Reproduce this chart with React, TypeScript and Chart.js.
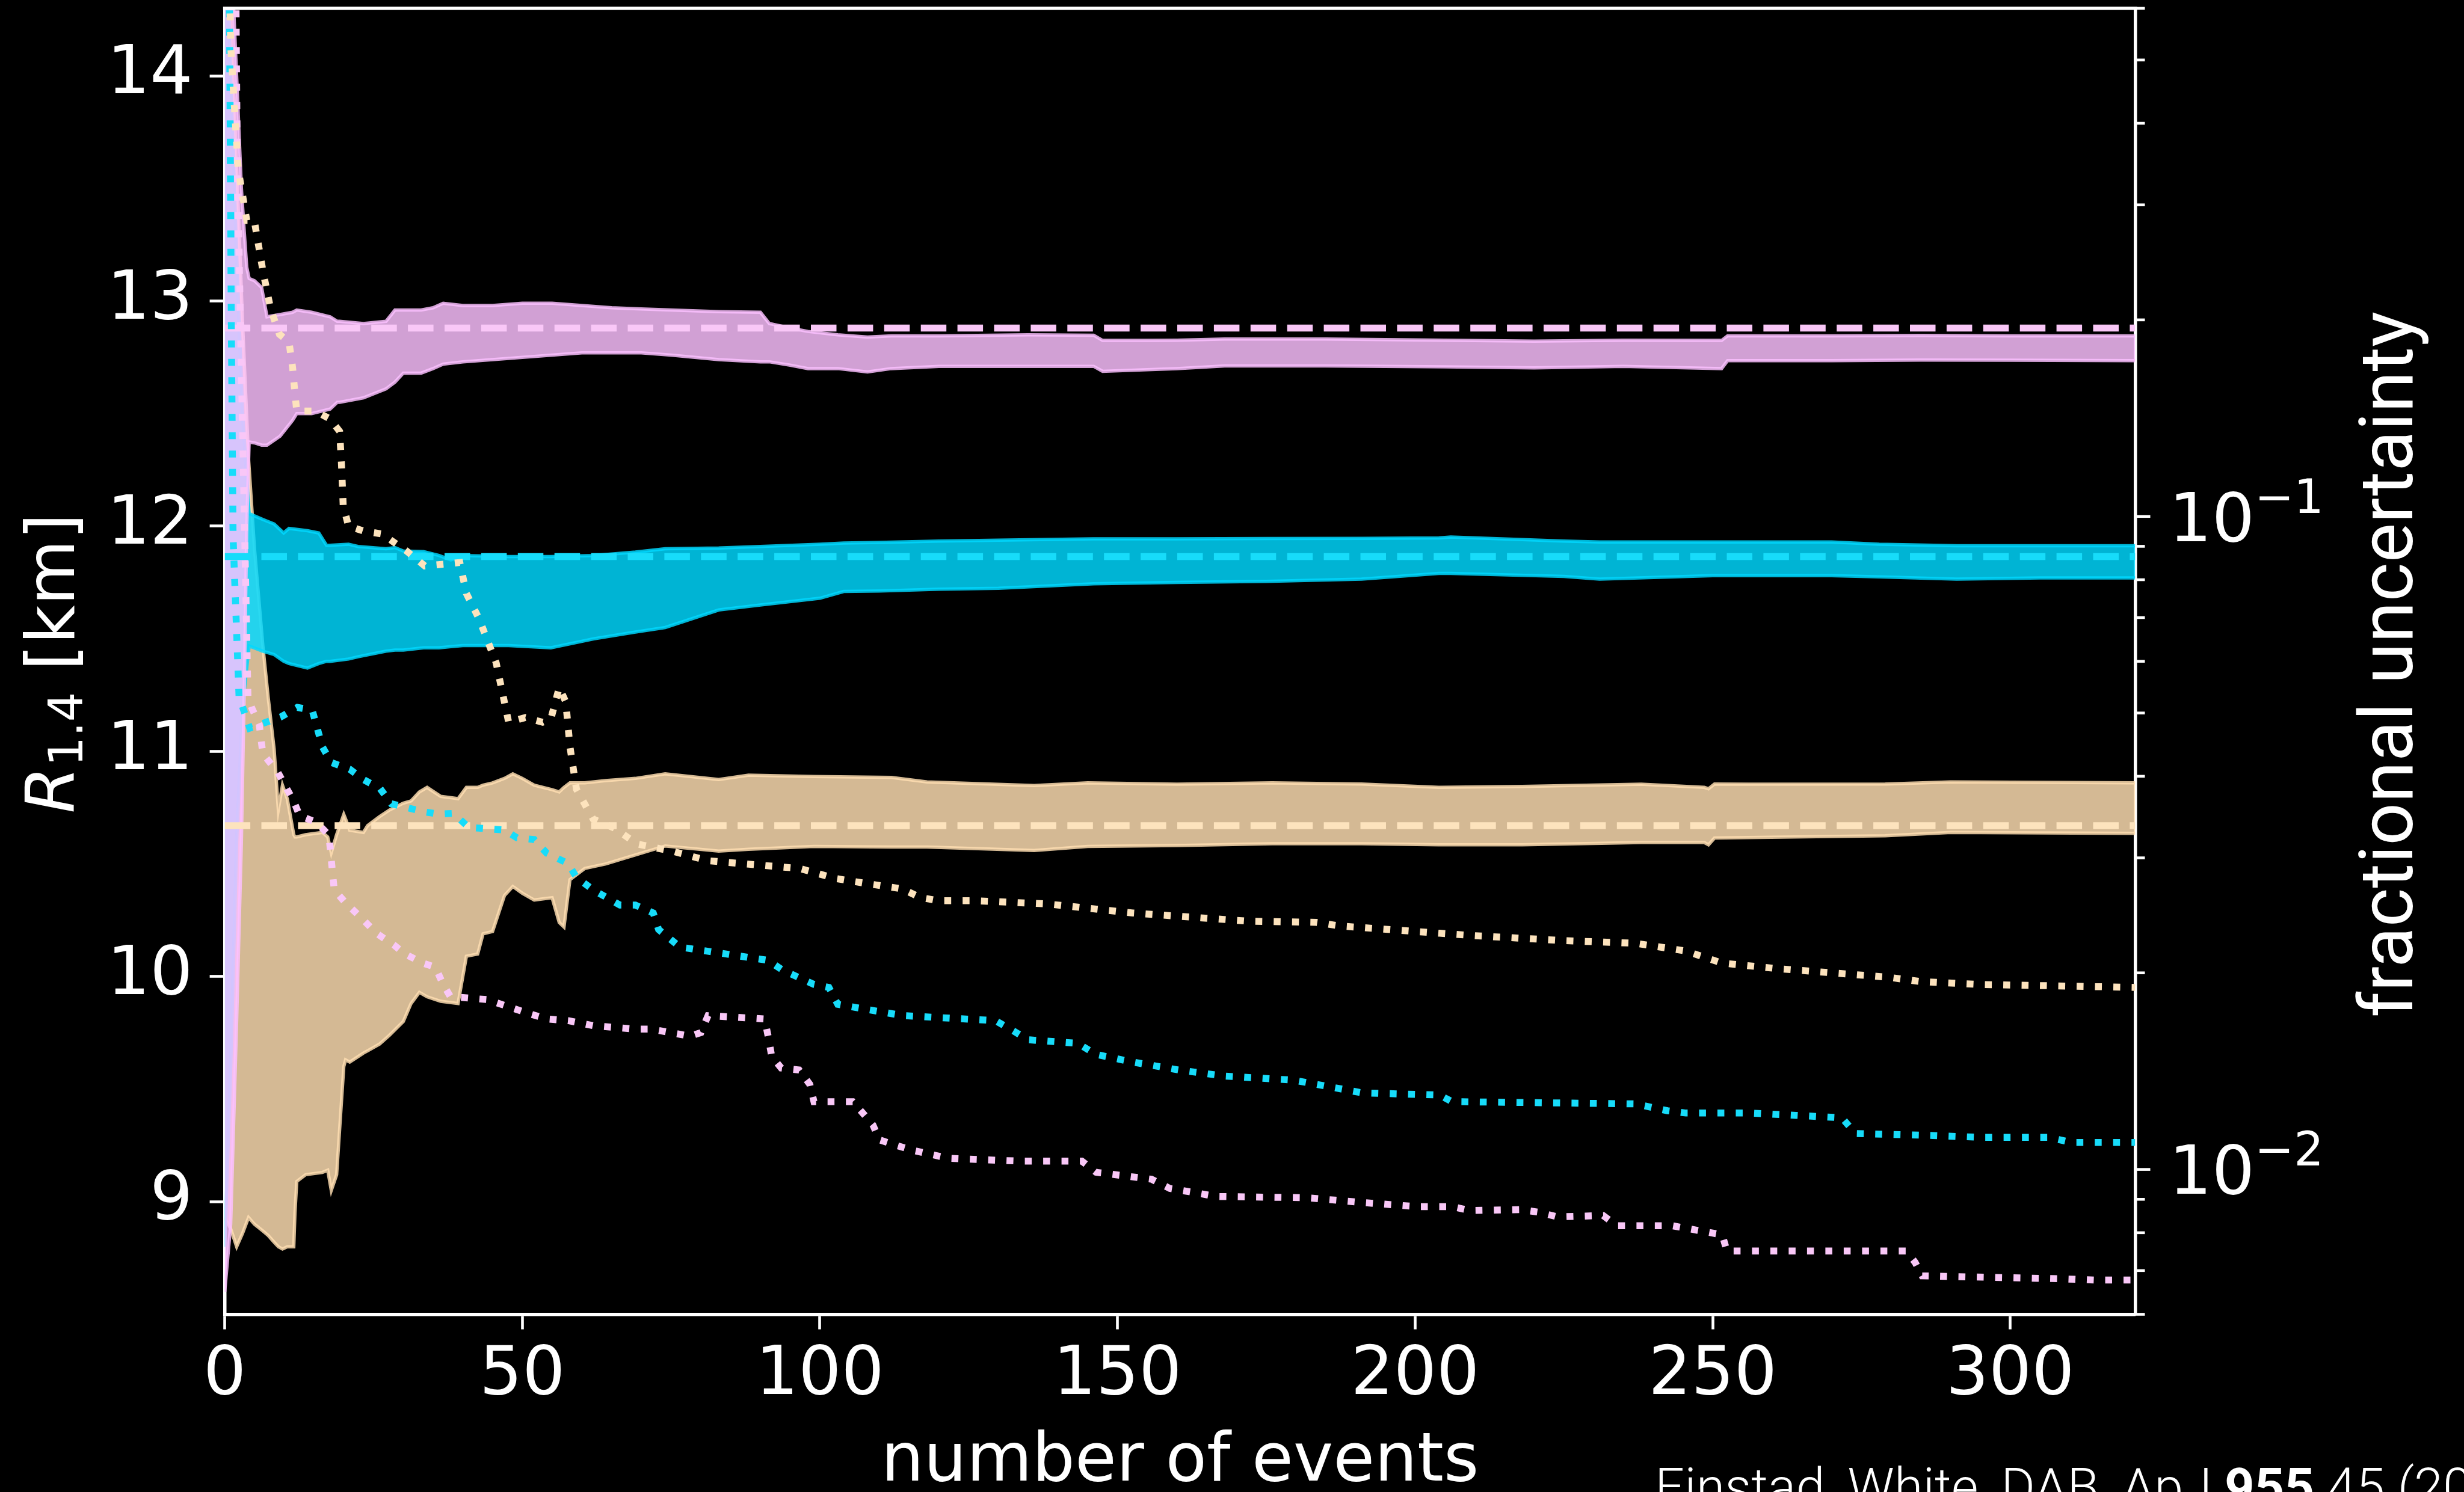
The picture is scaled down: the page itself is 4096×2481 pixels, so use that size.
import React, { useEffect, useRef } from 'react';
import { Chart, registerables } from 'chart.js';

Chart.register(...registerables);

// ---------------- data ----------------
const xTickValues = [0, 50, 100, 150, 200, 250, 300];
const rTickValues = [9, 10, 11, 12, 13, 14];
const uMajorTicks = [0.01, 0.1];
const uMajorExponents = ['\u22122', '\u22121'];
const uMinorTicks = [0.006, 0.007, 0.008, 0.009, 0.02, 0.03, 0.04, 0.05, 0.06, 0.07, 0.08, 0.09, 0.2, 0.3, 0.4, 0.5, 0.6];

const pinkTrueR = 12.88;
const cyanTrueR = 11.865;
const tanTrueR = 10.67;

const pinkBandN = [0, 1, 2, 2.8, 3.3, 3.7, 4.1, 5, 6.2, 7.1, 9.3, 11.4, 12.1, 14.6, 17.7, 18.9, 19.3, 23.3, 27.1, 28.6, 30, 33, 35, 36.7, 40, 45, 50, 55, 60, 65, 70, 75, 83, 90, 91.5, 95, 98, 103, 108, 112, 120, 135, 146, 147.5, 155, 160, 168, 185, 205, 220, 235, 251.5, 252.5, 270, 285, 300, 321];
const pinkBandUpper = [14.9, 14.6, 14.0, 13.5, 13.3, 13.15, 13.1, 13.09, 13.06, 12.93, 12.94, 12.95, 12.96, 12.95, 12.93, 12.91, 12.91, 12.9, 12.91, 12.96, 12.96, 12.96, 12.97, 12.99, 12.98, 12.98, 12.99, 12.99, 12.98, 12.97, 12.965, 12.96, 12.953, 12.95, 12.9, 12.88, 12.865, 12.85, 12.84, 12.845, 12.845, 12.85, 12.848, 12.825, 12.825, 12.826, 12.831, 12.831, 12.826, 12.822, 12.826, 12.825, 12.845, 12.845, 12.847, 12.845, 12.845];
const pinkBandLower = [8.6, 8.9, 9.8, 10.6, 11.3, 12.0, 12.374, 12.37, 12.36, 12.36, 12.4, 12.47, 12.5, 12.5, 12.52, 12.55, 12.55, 12.57, 12.61, 12.64, 12.68, 12.68, 12.7, 12.72, 12.73, 12.74, 12.75, 12.76, 12.77, 12.77, 12.77, 12.76, 12.74, 12.73, 12.73, 12.715, 12.7, 12.7, 12.685, 12.7, 12.71, 12.71, 12.71, 12.688, 12.695, 12.7, 12.712, 12.712, 12.708, 12.703, 12.71, 12.7, 12.735, 12.735, 12.738, 12.737, 12.735];

const cyanBandN = [0, 1, 2, 3, 4.1, 6.4, 8.3, 9.9, 10.8, 13.9, 15.8, 17.1, 17.7, 20.8, 22.4, 27.1, 28.6, 30, 33.4, 36, 38, 40, 47.7, 54.8, 62, 69, 74, 83, 90, 100, 104, 110, 120, 130, 146, 160, 175, 191, 204, 206, 225, 231, 250, 270, 278, 291, 305, 321];
const cyanBandUpper = [14.9, 14.0, 13.2, 12.5, 12.056, 12.03, 12.01, 11.97, 11.99, 11.98, 11.97, 11.915, 11.915, 11.92, 11.91, 11.9, 11.905, 11.89, 11.887, 11.87, 11.85, 11.87, 11.865, 11.865, 11.87, 11.885, 11.9, 11.903, 11.91, 11.92, 11.925, 11.928, 11.934, 11.938, 11.944, 11.944, 11.945, 11.946, 11.948, 11.952, 11.934, 11.93, 11.93, 11.93, 11.92, 11.913, 11.913, 11.913];
const cyanBandLower = [8.8, 9.6, 10.6, 11.2, 11.468, 11.445, 11.43, 11.4, 11.39, 11.37, 11.39, 11.4, 11.4, 11.41, 11.42, 11.445, 11.45, 11.45, 11.46, 11.46, 11.465, 11.47, 11.47, 11.46, 11.5, 11.53, 11.55, 11.628, 11.65, 11.68, 11.71, 11.712, 11.72, 11.724, 11.744, 11.75, 11.755, 11.765, 11.79, 11.79, 11.777, 11.765, 11.78, 11.78, 11.775, 11.765, 11.77, 11.77];

const tanBandN = [0, 1, 2, 3, 4, 5, 6.4, 7.3, 8.3, 9, 9.7, 10.5, 11.6, 11.8, 12.1, 13.6, 16.4, 17.3, 17.9, 18.8, 20, 20.3, 21, 23.3, 24, 26, 27.7, 30, 31.3, 32.7, 34, 36.3, 39.2, 40.6, 42.5, 43.4, 45, 47, 48.4, 50, 52, 55, 56.2, 57, 58, 60.5, 64, 69, 74, 83, 88, 99, 112, 118, 136, 145, 160, 176, 191, 204, 218, 238, 248.6, 249.3, 250.3, 256, 279, 290, 321];
const tanBandUpper = [14.9, 14.3, 13.6, 12.9, 12.3, 11.9, 11.47, 11.24, 11.01, 10.74, 10.85, 10.79, 10.63, 10.62, 10.62, 10.63, 10.64, 10.62, 10.55, 10.63, 10.72, 10.7, 10.65, 10.64, 10.67, 10.71, 10.74, 10.77, 10.78, 10.82, 10.84, 10.8, 10.79, 10.84, 10.84, 10.85, 10.86, 10.88, 10.9, 10.88, 10.85, 10.83, 10.82, 10.84, 10.86, 10.86, 10.87, 10.88, 10.9, 10.875, 10.894, 10.888, 10.884, 10.864, 10.848, 10.86, 10.854, 10.86, 10.855, 10.84, 10.844, 10.854, 10.84, 10.834, 10.855, 10.854, 10.855, 10.864, 10.86];
const tanBandLower = [8.93, 8.88, 8.8, 8.86, 8.93, 8.9, 8.87, 8.85, 8.82, 8.8, 8.79, 8.8, 8.8, 8.95, 9.09, 9.12, 9.13, 9.14, 9.05, 9.12, 9.6, 9.63, 9.62, 9.66, 9.67, 9.7, 9.74, 9.8, 9.88, 9.93, 9.91, 9.89, 9.88, 10.09, 10.1, 10.19, 10.2, 10.36, 10.4, 10.37, 10.34, 10.35, 10.24, 10.22, 10.43, 10.48, 10.5, 10.54, 10.58, 10.557, 10.565, 10.578, 10.575, 10.575, 10.56, 10.578, 10.582, 10.59, 10.59, 10.585, 10.585, 10.595, 10.595, 10.585, 10.615, 10.617, 10.625, 10.64, 10.636];

const tanFracN = [0, 1.03, 1.65, 2.27, 3.7, 4.96, 6.4, 7.7, 9.2, 10.8, 11.4, 11.8, 12.1, 15.2, 17.7, 19.3, 19.6, 19.9, 20.8, 23.3, 26.4, 30.5, 33.6, 37.9, 39.5, 40.6, 42.7, 45.6, 47.7, 50.5, 53.4, 54.8, 56.2, 57.3, 58, 59.1, 61.9, 65.5, 69.3, 75.3, 81.2, 90.7, 96.6, 102.6, 107.9, 113.8, 116.8, 119.8, 125.7, 138.2, 152.6, 171.9, 183.4, 187.3, 204.1, 210, 225.4, 237, 245.5, 251.6, 260.9, 270.1, 279.4, 284.8, 294.8, 321];
const tanFracU = [1.2, 0.52, 0.42, 0.34, 0.284, 0.284, 0.238, 0.208, 0.19, 0.185, 0.169, 0.154, 0.145, 0.145, 0.141, 0.135, 0.121, 0.104, 0.0966, 0.095, 0.094, 0.0886, 0.084, 0.0847, 0.085, 0.0762, 0.0698, 0.0597, 0.0484, 0.0492, 0.0484, 0.049, 0.0547, 0.052, 0.0444, 0.0382, 0.0344, 0.0333, 0.0315, 0.0307, 0.0297, 0.0292, 0.0289, 0.0279, 0.0274, 0.0269, 0.0261, 0.0258, 0.0258, 0.0255, 0.0247, 0.024, 0.0239, 0.0236, 0.023, 0.0228, 0.0224, 0.0222, 0.0216, 0.0207, 0.0203, 0.02, 0.0197, 0.0194, 0.0192, 0.019];

const cyanFracN = [0.5, 0.8, 1.1, 1.4, 2.4, 4.2, 9.4, 12.2, 14.7, 16.4, 17.9, 21, 23.4, 26.1, 28, 33.4, 36, 38.4, 41, 47, 49.1, 52, 54.1, 57.7, 59.1, 61.9, 66.4, 69, 72, 72.9, 76.5, 82.4, 88.3, 91.3, 93.7, 99, 101.5, 103, 106, 114, 129.5, 132.5, 134.9, 143.3, 146.4, 152.6, 160.3, 168, 179.6, 183.4, 191.1, 204.1, 206.2, 237, 242.4, 245.5, 256.3, 264, 271.7, 274, 287, 294.8, 306.4, 310.2, 321];
const cyanFracU = [3.0, 0.6, 0.2, 0.093, 0.053, 0.0474, 0.0493, 0.051, 0.0505, 0.0444, 0.042, 0.041, 0.0395, 0.0383, 0.0363, 0.0353, 0.035, 0.0351, 0.0334, 0.0331, 0.0322, 0.032, 0.0305, 0.0294, 0.028, 0.0268, 0.0254, 0.0254, 0.0247, 0.0233, 0.0219, 0.0215, 0.0211, 0.0209, 0.0202, 0.0192, 0.019, 0.0179, 0.0177, 0.0172, 0.0169, 0.0163, 0.0158, 0.0156, 0.015, 0.0146, 0.0142, 0.0139, 0.0137, 0.0135, 0.0131, 0.013, 0.0127, 0.0126, 0.0123, 0.0122, 0.0122, 0.0121, 0.012, 0.01135, 0.01127, 0.0112, 0.0112, 0.011, 0.011];

const pinkFracN = [0.5, 1.9, 2.1, 3.0, 3.9, 4.5, 5.8, 6.4, 8.9, 11.6, 12.6, 15.4, 17.5, 17.8, 18.1, 18.4, 20.3, 22.7, 25.5, 28.6, 30.2, 33.3, 35.4, 36.7, 37.9, 44.1, 51.3, 54.1, 57.7, 61.9, 69, 71.7, 78.2, 80, 81.2, 90.7, 91.3, 91.9, 93.5, 96.5, 98.3, 99, 105.5, 107.2, 108.9, 110, 112.6, 115.6, 121.6, 133.3, 144, 146.4, 155.7, 158.8, 163.4, 166.5, 181.9, 191.1, 200.4, 206.2, 209.2, 217.7, 220.8, 223.9, 231.6, 233.9, 243.2, 251.6, 252.4, 282.5, 284, 285.2, 308.7, 314.1, 321];
const pinkFracU = [3.0, 0.6, 0.35, 0.135, 0.053, 0.051, 0.048, 0.0433, 0.0406, 0.0366, 0.0348, 0.034, 0.0325, 0.0305, 0.0285, 0.0268, 0.0256, 0.0244, 0.023, 0.022, 0.0214, 0.0207, 0.0204, 0.0192, 0.0184, 0.0182, 0.0173, 0.017, 0.0169, 0.0166, 0.0164, 0.0164, 0.016, 0.0162, 0.0172, 0.017, 0.016, 0.0149, 0.0143, 0.0142, 0.0135, 0.0127, 0.0127, 0.0122, 0.0117, 0.0111, 0.0109, 0.0107, 0.0104, 0.0103, 0.0103, 0.0099, 0.00966, 0.00935, 0.0092, 0.00909, 0.00905, 0.0089, 0.00877, 0.00877, 0.00865, 0.00868, 0.0086, 0.00846, 0.0085, 0.0082, 0.0082, 0.00794, 0.0075, 0.0075, 0.00721, 0.00687, 0.0068, 0.00677, 0.00677];

// ---------------- styles ----------------
const W = 4096;
const H = 2481;
const PINK = '#f9c7f7';
const CYAN = '#17dcfa';
const TAN = '#fde3bd';
const PINK_FILL = 'rgba(251,193,255,0.83)';
const CYAN_FILL = 'rgba(0,217,255,0.83)';
const TAN_FILL = 'rgba(255,223,178,0.83)';
const FONT = '"DejaVu Sans"';
const FS = 112;
const SANS = 'Roboto, "Liberation Sans"';

const pts = (xs: number[], ys: number[]) => xs.map((x, i) => ({ x, y: ys[i] }));

const overlay = {
  id: 'overlay',
  beforeDraw(chart: any) {
    const ctx = chart.ctx;
    ctx.save();
    ctx.fillStyle = '#000';
    ctx.fillRect(0, 0, chart.width, chart.height);
    ctx.restore();
  },
  afterDraw(chart: any) {
    const ctx: CanvasRenderingContext2D = chart.ctx;
    const ca = chart.chartArea;
    const y2 = chart.scales.y2;
    ctx.save();
    // top spine
    ctx.strokeStyle = '#fff';
    ctx.lineWidth = 5.5;
    ctx.beginPath();
    ctx.moveTo(ca.left - 2.75, ca.top);
    ctx.lineTo(ca.right + 2.75, ca.top);
    ctx.stroke();
    // right axis ticks
    ctx.lineWidth = 4.6;
    for (const v of uMinorTicks) {
      const y = y2.getPixelForValue(v);
      ctx.beginPath();
      ctx.moveTo(ca.right, y);
      ctx.lineTo(ca.right + 16, y);
      ctx.stroke();
    }
    for (const v of uMajorTicks) {
      const y = y2.getPixelForValue(v);
      ctx.beginPath();
      ctx.moveTo(ca.right, y);
      ctx.lineTo(ca.right + 25, y);
      ctx.stroke();
    }
    // right axis labels 10^-n
    ctx.fillStyle = '#fff';
    ctx.textAlign = 'left';
    ctx.textBaseline = 'alphabetic';
    uMajorTicks.forEach((v, i) => {
      const y = y2.getPixelForValue(v);
      const x0 = ca.right + 25 + 31;
      const base = y + 0.729 * FS / 2;
      ctx.font = `${FS}px ${FONT}`;
      ctx.fillText('10', x0, base);
      const w = ctx.measureText('10').width;
      ctx.font = `${Math.round(FS * 0.7)}px ${FONT}`;
      ctx.fillText(uMajorExponents[i], x0 + w, base - 47);
    });

    // left title R_{1.4} [km]
    ctx.save();
    ctx.translate(123, 1103);
    ctx.rotate(-Math.PI / 2);
    const fR = `italic ${FS}px ${FONT}`;
    const fSub = `${Math.round(FS * 0.7)}px ${FONT}`;
    const fN = `${FS}px ${FONT}`;
    ctx.font = fR; const wR = ctx.measureText('R').width;
    ctx.font = fSub; const wS = ctx.measureText('1.4').width;
    ctx.font = fN; const wK = ctx.measureText(' [km]').width;
    let x = -(wR + wS + wK) / 2;
    ctx.font = fR; ctx.fillText('R', x, 0); x += wR;
    ctx.font = fSub; ctx.fillText('1.4', x, 14); x += wS;
    ctx.font = fN; ctx.fillText(' [km]', x, 0);
    ctx.restore();

    // bottom title
    ctx.font = `${FS}px ${FONT}`;
    ctx.textAlign = 'center';
    ctx.fillText('number of events', (ca.left + ca.right) / 2, 2462);

    // right title
    const rt = 'fractional uncertainty';
    ctx.font = `400 100px ${SANS}`;
    const rw = ctx.measureText(rt).width;
    const rs = 100 * 1174 / rw;
    ctx.save();
    ctx.translate(4010, 1105);
    ctx.rotate(-Math.PI / 2);
    ctx.font = `400 ${rs}px ${SANS}`;
    ctx.textAlign = 'center';
    ctx.fillText(rt, 0, 0);
    ctx.restore();

    // citation (cut by the figure edge)
    const c1 = 'Einstad, White, DAB, ApJ ';
    const c2 = '955';
    const c3 = ' 45 (2023)';
    ctx.textAlign = 'left';
    ctx.font = `300 100px ${SANS}`;
    const m1 = ctx.measureText(c1).width;
    const m3 = ctx.measureText(' 45 (2').width + 0.6 * ctx.measureText('0').width;
    ctx.font = `700 100px ${SANS}`;
    const m2 = ctx.measureText(c2).width;
    const cs = 100 * 1339 / (m1 + m2 + m3);
    const cx0 = 2751;
    const cb = 2441 + 0.711 * cs;
    ctx.font = `300 ${cs}px ${SANS}`;
    ctx.fillText(c1, cx0, cb);
    const w1 = ctx.measureText(c1).width;
    ctx.font = `700 ${cs}px ${SANS}`;
    ctx.fillText(c2, cx0 + w1, cb);
    const w2 = ctx.measureText(c2).width;
    ctx.font = `300 ${cs}px ${SANS}`;
    ctx.fillText(c3, cx0 + w1 + w2, cb);
    ctx.restore();
  },
};

export default function App() {
  const ref = useRef<HTMLCanvasElement>(null);
  useEffect(() => {
    document.body.style.margin = '0';
    document.body.style.background = '#000';
    const canvas = ref.current;
    if (!canvas) return;

    const lineBase = { pointRadius: 0, pointHoverRadius: 0, tension: 0, clip: 0 as any };
    const band = (xs: number[], up: number[], lo: number[], fillColor: string, order: number) => [
      { ...lineBase, data: pts(xs, up), borderColor: fillColor, backgroundColor: fillColor, borderWidth: 5.5, fill: '+1', order, yAxisID: 'y' },
      { ...lineBase, data: pts(xs, lo), borderColor: fillColor, backgroundColor: fillColor, borderWidth: 5.5, fill: false, order, yAxisID: 'y' },
    ];
    const dashed = (v: number, color: string) => ({
      ...lineBase, data: [{ x: 0, y: v }, { x: 321, y: v }], borderColor: color, borderWidth: 11.5,
      borderDash: [42.5, 18.4], borderCapStyle: 'butt', fill: false, order: 5, yAxisID: 'y',
    });
    const dotted = (xs: number[], us: number[], color: string) => ({
      ...lineBase, data: pts(xs, us), borderColor: color, borderWidth: 11.5,
      borderDash: [11.5, 19], borderCapStyle: 'butt', borderJoinStyle: 'miter', fill: false, order: 1, yAxisID: 'y2',
    });

    const datasets: any[] = [
      ...band(pinkBandN, pinkBandUpper, pinkBandLower, PINK_FILL, 10),
      ...band(cyanBandN, cyanBandUpper, cyanBandLower, CYAN_FILL, 11),
      ...band(tanBandN, tanBandUpper, tanBandLower, TAN_FILL, 12),
      dashed(pinkTrueR, PINK),
      dashed(cyanTrueR, CYAN),
      dashed(tanTrueR, TAN),
      dotted(tanFracN, tanFracU, TAN),
      dotted(cyanFracN, cyanFracU, CYAN),
      dotted(pinkFracN, pinkFracU, PINK),
    ];

    const tickFont = { family: 'DejaVu Sans', size: FS };
    const noPad = (s: any) => { s.paddingTop = 0; s.paddingBottom = 0; s.paddingLeft = 0; s.paddingRight = 0; };
    const chart = new Chart(canvas, {
      type: 'line',
      data: { datasets },
      options: {
        responsive: false,
        animation: false,
        devicePixelRatio: 1,
        events: [],
        layout: { padding: { top: 13.8, left: 0, right: 0, bottom: 0 } },
        plugins: { legend: { display: false }, tooltip: { enabled: false }, title: { display: false } },
        scales: {
          x: {
            type: 'linear', min: 0, max: 321, position: 'bottom',
            afterBuildTicks: (s: any) => { s.ticks = xTickValues.map((v) => ({ value: v })); },
            afterFit: (s: any) => { s.height = 295.5; noPad(s); },
            grid: { display: true, drawOnChartArea: false, drawTicks: true, tickLength: 25, tickWidth: 4.6, tickColor: '#fff', color: '#fff' },
            border: { display: true, color: '#fff', width: 5.5 },
            ticks: { color: '#fff', font: tickFont, padding: 11, maxRotation: 0, minRotation: 0, autoSkip: false, callback: (v: any) => String(v) },
          },
          y: {
            type: 'linear', min: 8.5, max: 14.3, position: 'left',
            afterBuildTicks: (s: any) => { s.ticks = rTickValues.map((v) => ({ value: v })); },
            afterFit: (s: any) => { s.width = 373.6; noPad(s); },
            grid: { display: true, drawOnChartArea: false, drawTicks: true, tickLength: 25, tickWidth: 4.6, tickColor: '#fff', color: '#fff' },
            border: { display: true, color: '#fff', width: 5.5 },
            ticks: { color: '#fff', font: tickFont, padding: 28, autoSkip: false, callback: (v: any) => String(v) },
          },
          y2: {
            type: 'logarithmic', min: 0.006, max: 0.6, position: 'right',
            afterFit: (s: any) => { s.width = 546.5; noPad(s); },
            grid: { display: false, drawOnChartArea: false },
            border: { display: true, color: '#fff', width: 5.5 },
            ticks: { display: false },
          },
        },
      } as any,
      plugins: [overlay],
    });
    return () => chart.destroy();
  }, []);

  return (
    <div style={{ position: 'fixed', left: 0, top: 0, width: W, height: H, background: '#000', overflow: 'hidden' }}>
      <canvas ref={ref} width={W} height={H} style={{ display: 'block', width: W, height: H }} />
    </div>
  );
}
